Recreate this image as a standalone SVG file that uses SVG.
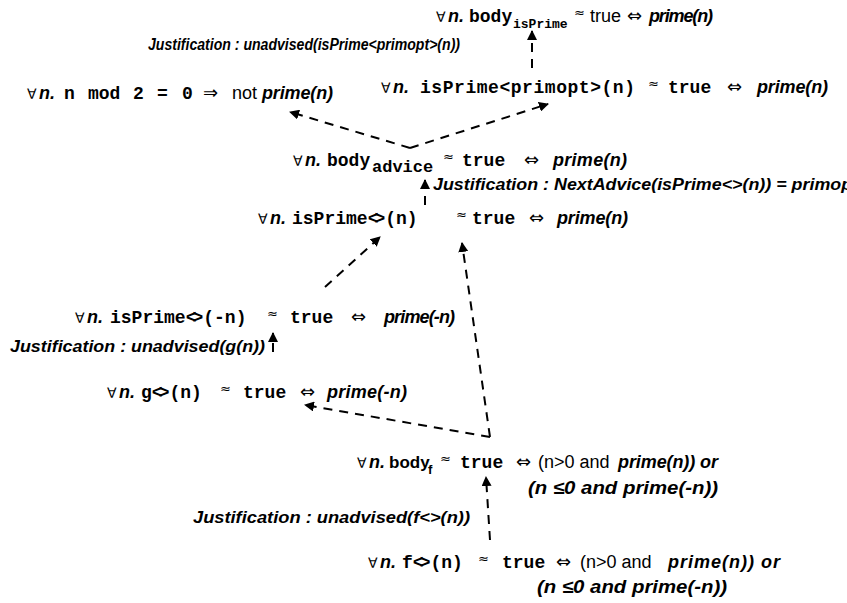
<svg xmlns="http://www.w3.org/2000/svg" width="847" height="603" viewBox="0 0 847 603">
<defs>
<marker id="ah" viewBox="0 0 10 10" refX="9" refY="5" markerWidth="5" markerHeight="5" orient="auto" markerUnits="strokeWidth">
<path d="M0,0 L10,5 L0,10 z" fill="#000"/>
</marker>
<style>
text{fill:#000;font-size:18px;font-family:"Liberation Sans",Arial,sans-serif}
.s{font-family:"DejaVu Sans",sans-serif;font-size:14px}
.a{font-family:"DejaVu Sans",sans-serif;font-size:18px}
.x{font-family:"DejaVu Sans",sans-serif;font-size:13px}
.i{font-style:italic;font-weight:bold}
.m{font-family:"Liberation Mono","Courier New",monospace;font-weight:bold}
.sub{font-size:13px}
.t{letter-spacing:-4px}
.j{font-style:italic;font-weight:bold;font-size:16px}
.c line{stroke:#000;stroke-width:2;stroke-dasharray:9 7;marker-end:url(#ah);fill:none}
</style>
</defs>
<rect width="847" height="603" fill="#fff"/>
<g class="c" id="connectors">
<line x1="532" y1="68" x2="532" y2="31"/>
<line x1="410" y1="148" x2="290" y2="112"/>
<line x1="410" y1="148" x2="548" y2="104"/>
<line x1="425" y1="205" x2="425" y2="180"/>
<line x1="325" y1="287" x2="380" y2="237"/>
<line x1="490" y1="437" x2="462" y2="243"/>
<line x1="273" y1="352" x2="273" y2="333"/>
<line x1="490" y1="437" x2="305" y2="405"/>
<line x1="490" y1="540" x2="486" y2="477"/>
</g>
<g id="n1">
<text x="436" y="22"><tspan class="s">∀</tspan><tspan class="i" x="448">n.</tspan><tspan class="m" x="469">body</tspan><tspan class="m sub" x="513" y="28">isPrime</tspan><tspan class="x" x="574" y="17">≈</tspan><tspan x="590" y="22">true</tspan><tspan class="a" x="627">⇔</tspan><tspan class="i" x="649" textLength="64">prime(n)</tspan></text>
</g>
<g id="j1">
<text class="j" x="148" y="50" textLength="312" lengthAdjust="spacingAndGlyphs">Justification : unadvised(isPrime&lt;primopt&gt;(n))</text>
</g>
<g id="n2">
<text x="27" y="99"><tspan class="s">∀</tspan><tspan class="i" x="39">n.</tspan><tspan class="m" x="64">n</tspan><tspan class="m" x="88">mod</tspan><tspan class="m" x="133">2</tspan><tspan class="m" x="157">=</tspan><tspan class="m" x="182">0</tspan><tspan class="a" x="203">⇒</tspan><tspan x="232">not</tspan><tspan class="i" x="262" textLength="71">prime(n)</tspan></text>
</g>
<g id="n3">
<text x="381" y="93"><tspan class="s">∀</tspan><tspan class="i" x="393">n.</tspan><tspan class="m" x="420" textLength="215">isPrime&lt;primopt&gt;(n)</tspan><tspan class="x" x="648" y="88">≈</tspan><tspan class="m" x="668" y="93">true</tspan><tspan class="a" x="727">⇔</tspan><tspan class="i" x="757" textLength="71">prime(n)</tspan></text>
</g>
<g id="n4">
<text x="293" y="166"><tspan class="s">∀</tspan><tspan class="i" x="305">n.</tspan><tspan class="m" x="327">body</tspan><tspan class="m" style="font-size:17px" x="372" y="172">advice</tspan><tspan class="x" x="443" y="161">≈</tspan><tspan class="m" x="462" y="166">true</tspan><tspan class="a" x="524">⇔</tspan><tspan class="i" x="553" textLength="74">prime(n)</tspan></text>
</g>
<g id="j2">
<text class="j" x="433" y="190" textLength="425" lengthAdjust="spacingAndGlyphs">Justification : NextAdvice(isPrime&lt;&gt;(n)) = primopt</text>
</g>
<g id="n5">
<text x="258" y="224"><tspan class="s">∀</tspan><tspan class="i" x="270">n.</tspan><tspan class="m" x="292">isPrime<tspan class="t">&lt;</tspan>&gt;(n)</tspan><tspan class="x" x="456" y="219">≈</tspan><tspan class="m" x="472" y="224">true</tspan><tspan class="a" x="529">⇔</tspan><tspan class="i" x="557" textLength="71">prime(n)</tspan></text>
</g>
<g id="n6">
<text x="75" y="323"><tspan class="s">∀</tspan><tspan class="i" x="87">n.</tspan><tspan class="m" x="110">isPrime<tspan class="t">&lt;</tspan>&gt;(-n)</tspan><tspan class="x" x="267" y="318">≈</tspan><tspan class="m" x="290" y="323">true</tspan><tspan class="a" x="351">⇔</tspan><tspan class="i" x="384" textLength="71">prime(-n)</tspan></text>
</g>
<g id="j3">
<text class="j" x="10" y="352" textLength="255" lengthAdjust="spacingAndGlyphs">Justification : unadvised(g(n))</text>
</g>
<g id="n7">
<text x="107" y="398"><tspan class="s">∀</tspan><tspan class="i" x="119">n.</tspan><tspan class="m" x="141">g<tspan class="t">&lt;</tspan>&gt;(n)</tspan><tspan class="x" x="220" y="393">≈</tspan><tspan class="m" x="243" y="398">true</tspan><tspan class="a" x="300">⇔</tspan><tspan class="i" x="327" textLength="80">prime(-n)</tspan></text>
</g>
<g id="n8">
<text x="357" y="468"><tspan class="s">∀</tspan><tspan class="i" x="369">n.</tspan><tspan font-weight="bold" style="font-size:17px" x="389">body</tspan><tspan font-weight="bold" class="sub" x="428" y="474">f</tspan><tspan class="x" x="440" y="463">≈</tspan><tspan class="m" x="460" y="468">true</tspan><tspan class="a" x="516">⇔</tspan><tspan x="538">(n&gt;0 and</tspan><tspan class="i" x="618" textLength="100">prime(n)) or</tspan></text>
<text class="i" x="528" y="494" textLength="190" lengthAdjust="spacingAndGlyphs">(n ≤0 and prime(-n))</text>
</g>
<g id="j4">
<text class="j" x="193" y="523" textLength="277" lengthAdjust="spacingAndGlyphs">Justification : unadvised(f&lt;&gt;(n))</text>
</g>
<g id="n9">
<text x="368" y="568"><tspan class="s">∀</tspan><tspan class="i" x="380">n.</tspan><tspan class="m" x="402">f<tspan class="t">&lt;</tspan>&gt;(n)</tspan><tspan class="x" x="478" y="563">≈</tspan><tspan class="m" x="502" y="568">true</tspan><tspan class="a" x="556">⇔</tspan><tspan x="580">(n&gt;0 and</tspan><tspan class="i" x="668" textLength="112">prime(n)) or</tspan></text>
<text class="i" x="537" y="593" textLength="190" lengthAdjust="spacingAndGlyphs">(n ≤0 and prime(-n))</text>
</g>
</svg>
